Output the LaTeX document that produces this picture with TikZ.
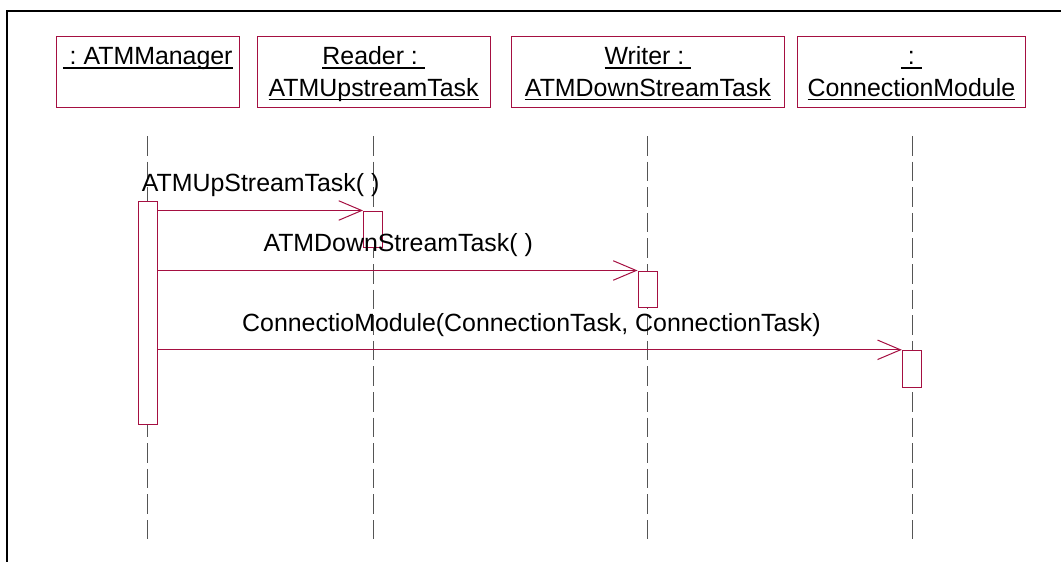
\documentclass[tikz,border=0pt]{standalone}
\usepackage{fontspec}
\setmainfont{Liberation Sans}
\usetikzlibrary{arrows.meta}

\definecolor{umlred}{RGB}{165,15,65}
\definecolor{lifegray}{RGB}{85,85,85}

% underlined text with a fixed rule below the baseline
\newsavebox\ulsave
\newcommand\ulbox[1]{\sbox\ulsave{#1}\rlap{\rule[-4.2pt]{\wd\ulsave}{1.3pt}}\usebox\ulsave}

\tikzset{
  frameline/.style={draw=black, line width=2pt},
  headbox/.style={draw=umlred, line width=1pt, inner sep=0pt, minimum height=70.6pt},
  headtext/.style={inner sep=0pt, anchor=base, font=\fontsize{24.9}{30}\selectfont},
  lifeline/.style={draw=lifegray, line width=1pt, dash pattern=on 19.5pt off 6.1pt},
  actbox/.style={draw=umlred, fill=white, line width=1pt, inner sep=0pt, minimum width=19pt},
  msg/.style={draw=umlred, line width=1pt, -{Straight Barb[length=23pt,width=19.5pt,line width=1pt]}},
  msgtext/.style={inner sep=0pt, anchor=base west, font=\fontsize{24.9}{30}\selectfont},
}

\begin{document}
\begin{tikzpicture}[x=1pt, y=-1pt]
\useasboundingbox (0,0) rectangle (1061,562);

% outer frame (open to the right and bottom)
\draw[frameline] (1061,11) -- (7.3,11) -- (7.3,562);

% object headers
\node[headbox, minimum width=183.3pt] (h1) at (147.65,72) {};
\node[headbox, minimum width=232.7pt] (h2) at (373.65,72) {};
\node[headbox, minimum width=272.8pt] (h3) at (647.9,72) {};
\node[headbox, minimum width=227.3pt] (h4) at (911.35,72) {};

\node[headtext] (h1a) at (147.65,64.3) {\ulbox{\ :\ ATMManager}};
\node[headtext] (h2a) at (373.65,64.3) {\ulbox{Reader :\ }};
\node[headtext] (h2b) at (373.65,96) {\ulbox{ATMUpstreamTask}};
\node[headtext] (h3a) at (647.9,64.3) {\ulbox{Writer :\ }};
\node[headtext] (h3b) at (647.9,96) {\ulbox{ATMDownStreamTask}};
\node[headtext] (h4a) at (911.35,64.3) {\ulbox{\ :\ }};
\node[headtext] (h4b) at (911.35,96) {\ulbox{ConnectionModule}};

% lifelines
\coordinate (l1t) at (147.5,136); \coordinate (l1b) at (147.5,538.5);
\coordinate (l2t) at (373,136);   \coordinate (l2b) at (373,538.5);
\coordinate (l3t) at (647,136);   \coordinate (l3b) at (647,538.5);
\coordinate (l4t) at (912.5,136); \coordinate (l4b) at (912.5,538.5);
\draw[lifeline] (l1t) -- (l1b);
\draw[lifeline] (l2t) -- (l2b);
\draw[lifeline] (l3t) -- (l3b);
\draw[lifeline] (l4t) -- (l4b);

% activation bars
\node[actbox, minimum height=222.7pt] (a1) at (147.6,312.65) {};
\node[actbox, minimum height=36.5pt] (a2) at (373,229.25) {};
\node[actbox, minimum height=36.7pt] (a3) at (647.5,289.35) {};
\node[actbox, minimum height=36.7pt] (a4) at (911.8,368.65) {};

% messages
\draw[msg] (a1.east |- a2.north west) -- (a2.north west);
\draw[msg] (a1.east |- a3.north west) -- (a3.north west);
\draw[msg] (a1.east |- a4.north west) -- (a4.north west);

\node[msgtext] (t1) at (141.7,191) {ATMUpStreamTask( )};
\node[msgtext] (t2) at (263.3,251.7) {ATMDownStreamTask( )};
\node[msgtext] (t3) at (242,331) {ConnectioModule(ConnectionTask, ConnectionTask)};
\end{tikzpicture}
\end{document}
